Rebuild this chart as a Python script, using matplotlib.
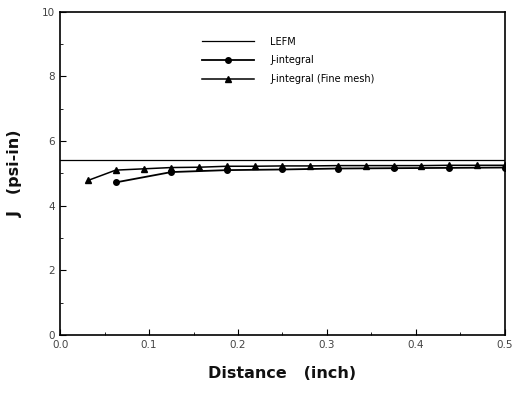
import numpy as np
import matplotlib
matplotlib.use("Agg")
import matplotlib.pyplot as plt
from matplotlib.ticker import MultipleLocator

# =========================
# Data
# =========================

LEFM_VALUE = 5.42

x_coarse = [0.0625, 0.125, 0.1875, 0.25, 0.3125, 0.375, 0.4375, 0.5]
j_coarse = [4.72, 5.04, 5.10, 5.12, 5.15, 5.16, 5.17, 5.18]

x_fine = [0.03125, 0.0625, 0.09375, 0.125, 0.15625, 0.1875, 0.21875, 0.25,
          0.28125, 0.3125, 0.34375, 0.375, 0.40625, 0.4375, 0.46875, 0.5]
j_fine = [4.78, 5.10, 5.14, 5.18, 5.19, 5.22, 5.22, 5.23,
          5.23, 5.24, 5.24, 5.24, 5.24, 5.25, 5.25, 5.25]

x_ticks = [0.0, 0.1, 0.2, 0.3, 0.4, 0.5]
x_ticklabels = ["0.0", "0.1", "0.2", "0.3", "0.4", "0.5"]
y_ticks = [0, 2, 4, 6, 8, 10]

# =========================
# Plot
# =========================

fig = plt.figure(figsize=(5.14, 3.94), dpi=100)
ax = fig.add_axes([0.117, 0.150, 0.865, 0.820])

ax.axhline(LEFM_VALUE, color="black", linewidth=0.9, label="LEFM")
ax.plot(x_coarse, j_coarse, color="black", linewidth=1.3, marker="o",
        markersize=4, label="J-integral")
ax.plot(x_fine, j_fine, color="black", linewidth=1.1, marker="^",
        markersize=4, label="J-integral (Fine mesh)")

ax.set_xlim(0, 0.5)
ax.set_ylim(0, 10)
ax.set_xticks(x_ticks)
ax.set_xticklabels(x_ticklabels)
ax.set_yticks(y_ticks)
ax.xaxis.set_minor_locator(MultipleLocator(0.05))
ax.yaxis.set_minor_locator(MultipleLocator(1))
ax.tick_params(which="both", direction="in", top=False, right=False,
               labelsize=7.5, labelcolor="#444444")
ax.tick_params(which="major", length=4)
ax.tick_params(which="minor", length=2)
for spine in ax.spines.values():
    spine.set_linewidth(1.2)

ax.set_xlabel("Distance   (inch)", fontsize=11.5, fontweight="bold",
              labelpad=12, color="#111111")
ax.set_ylabel("J   (psi-in)", fontsize=11.5, fontweight="bold",
              labelpad=14, color="#111111")

ax.legend(loc="upper left", bbox_to_anchor=(0.30, 0.95), frameon=False,
          fontsize=7, handlelength=5.3, labelspacing=0.9, handletextpad=1.7)

fig.savefig("out.png", dpi=100)
